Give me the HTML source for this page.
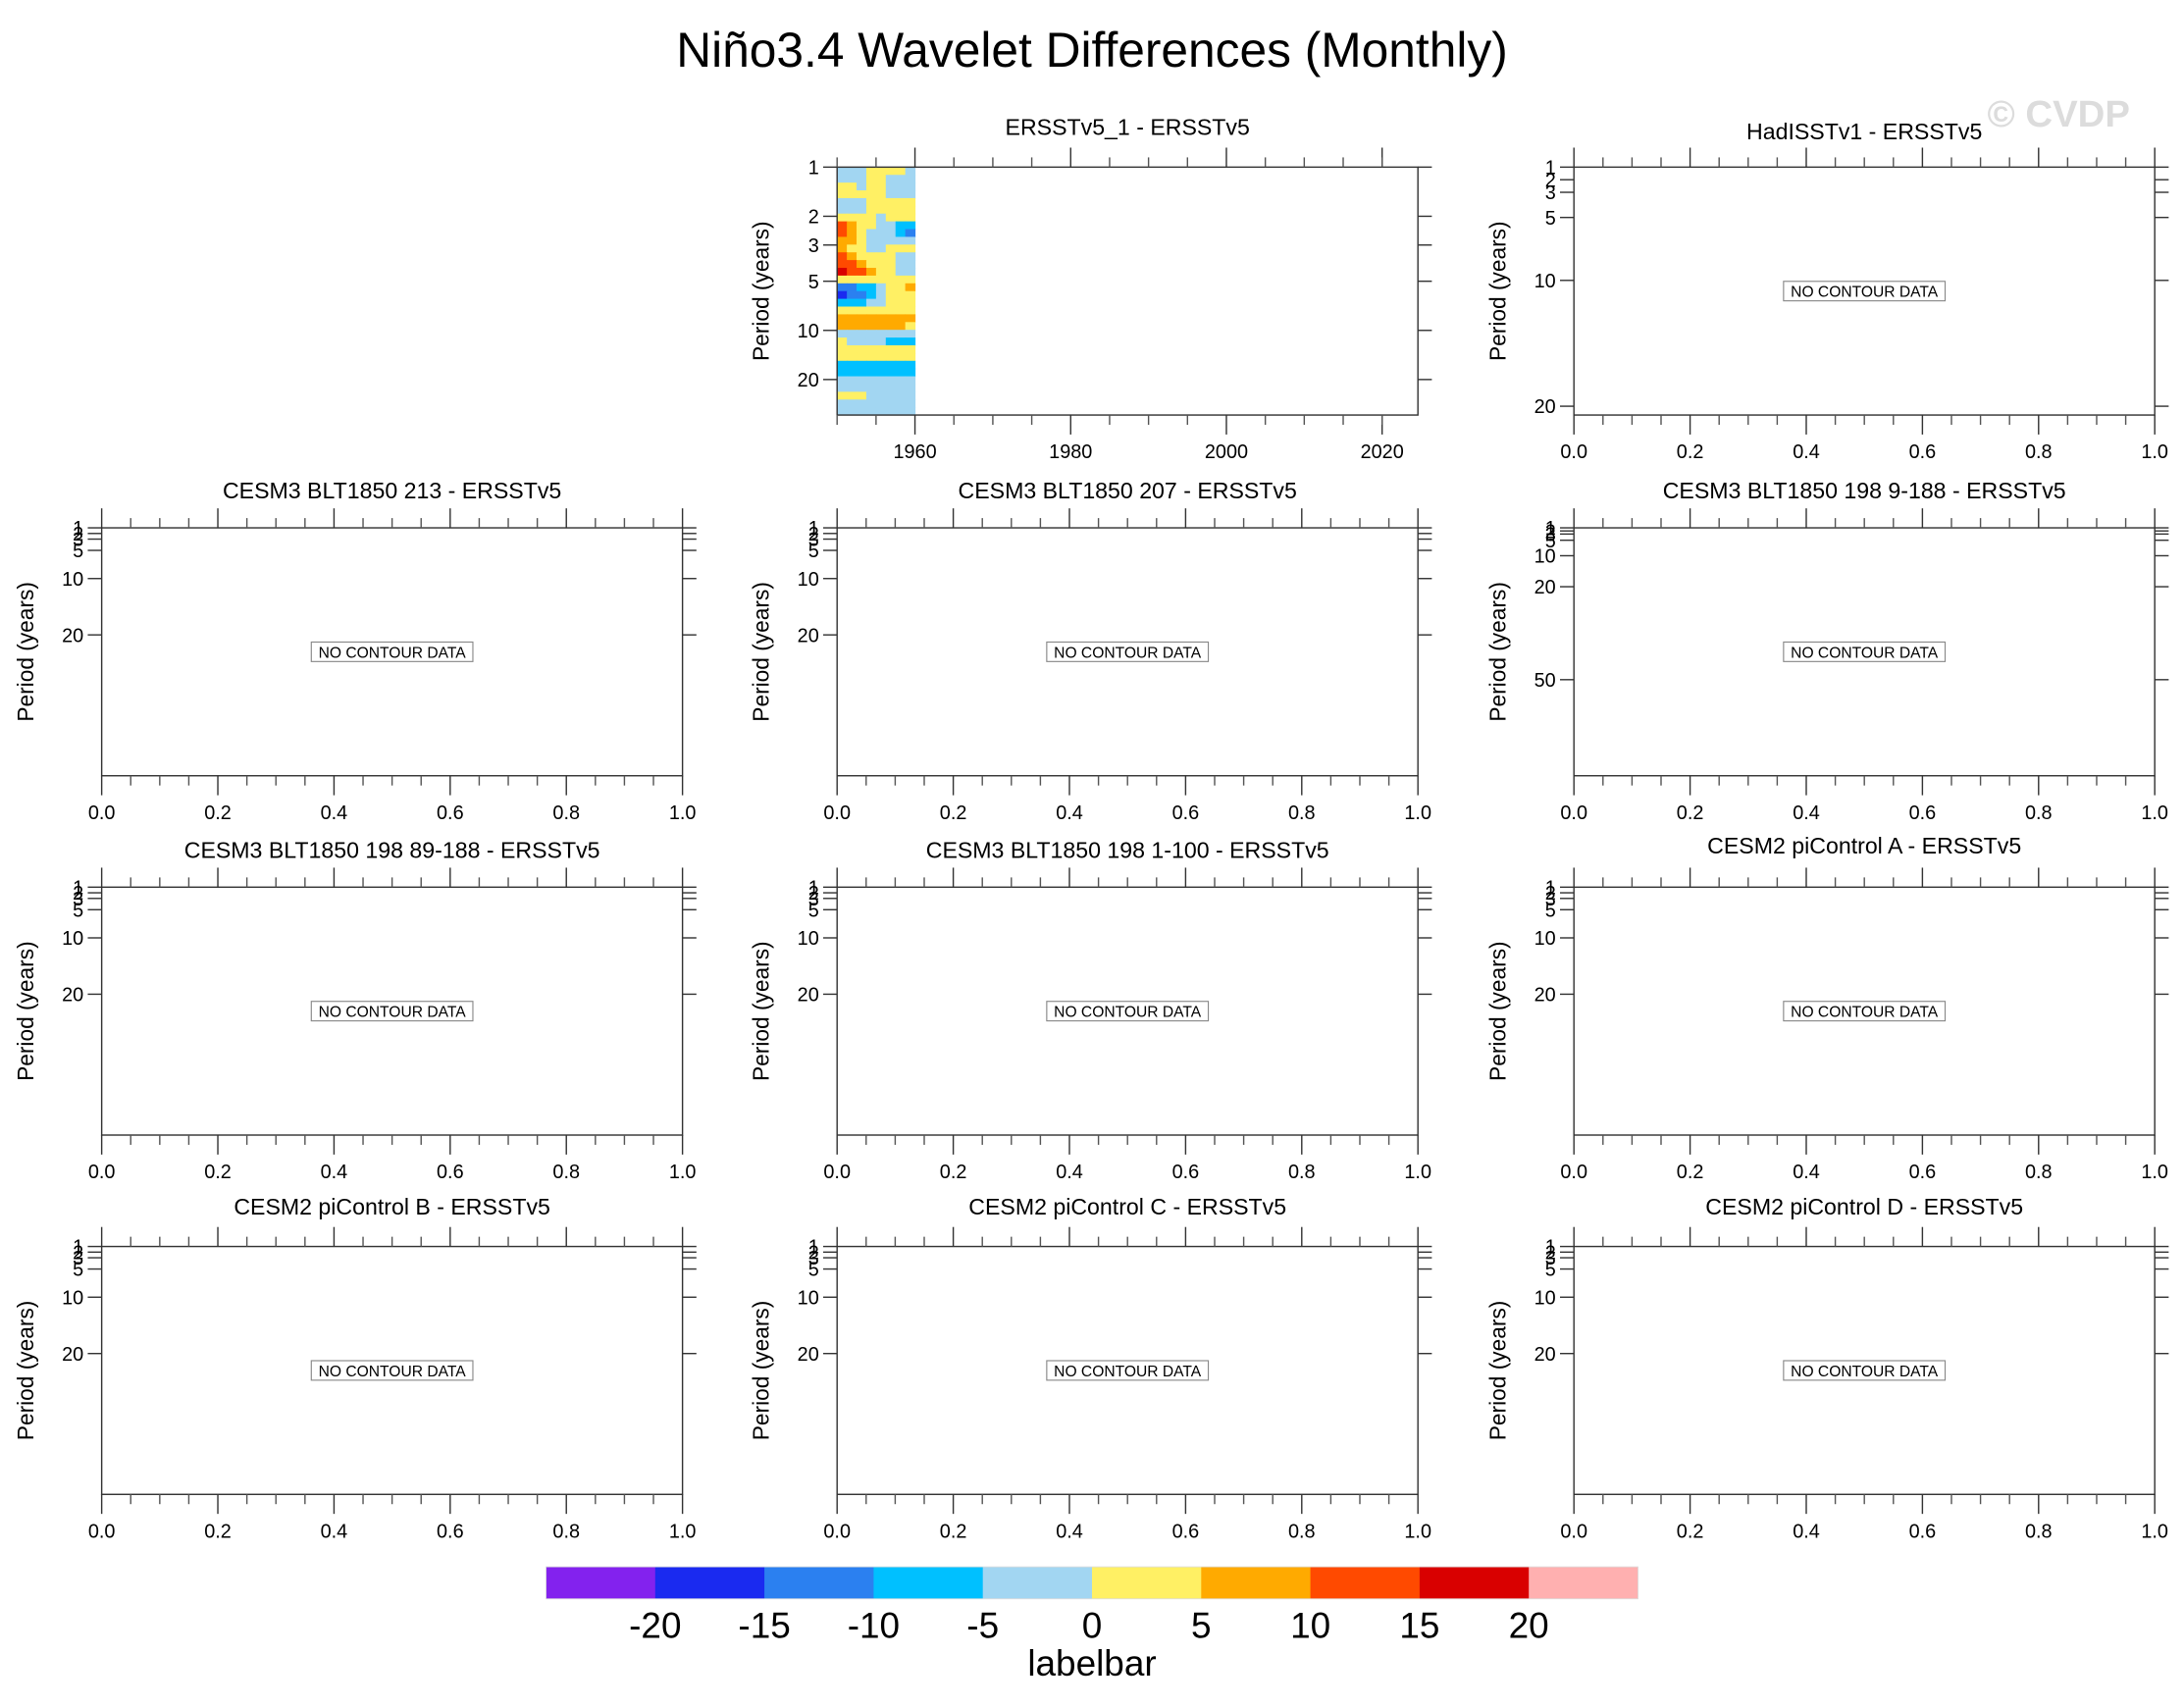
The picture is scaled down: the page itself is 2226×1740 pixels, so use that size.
<!DOCTYPE html>
<html><head><meta charset="utf-8">
<style>
html,body{margin:0;padding:0;background:#fff;}
svg{display:block;font-family:"Liberation Sans",Arial,sans-serif;}
</style></head>
<body>
<svg id="fig" width="2226" height="1740" viewBox="0 0 1568 1225.66" xmlns="http://www.w3.org/2000/svg">
<rect width="1568" height="1225.66" fill="#fff"/>
<text x="784" y="48" font-size="35" text-anchor="middle">Niño3.4 Wavelet Differences (Monthly)</text>
<text x="1478" y="91" font-size="27" font-weight="bold" fill="#dcdcdc" text-anchor="middle">© CVDP</text>
<g id="panels"></g>
<g id="labelbar"></g>
</svg>
<script>
// ---- contour data (ERSSTv5_1 - ERSSTv5), rows = period bands (top=1yr, log spaced to ~33yr), cols = 1950-1960
const contourYearStart = 1950;
const contourYearEnd = 1960;
const contourPeriodMax = 33;
const contourValues = [
[-2,-2,-2,2,2,2,2,-2],
[-2,-2,-2,2,2,-2,-2,-2],
[2,2,-2,2,2,-2,-2,-2],
[2,2,2,2,2,-2,-2,-2],
[-2,-2,-2,2,2,2,2,2],
[-2,-2,-2,2,2,2,2,2],
[2,2,2,2,-2,2,2,2],
[12,7,2,2,-2,-2,-7,-7],
[12,7,2,-2,-2,-2,-7,-12],
[7,7,2,-2,-2,-2,-2,-2],
[7,2,2,-2,-2,2,2,2],
[12,7,2,2,2,2,-2,-2],
[12,12,7,2,2,2,-2,-2],
[17,12,12,7,2,2,-2,-2],
[2,2,2,2,2,2,2,2],
[-12,-12,-7,-7,-2,2,2,7],
[-17,-12,-12,-7,-2,2,2,2],
[-7,-7,-7,-2,-2,2,2,2],
[2,2,2,2,2,2,2,2],
[7,7,7,7,7,7,7,7],
[7,7,7,7,7,7,7,2],
[-2,-2,-2,-2,-2,-2,-2,-2],
[2,-2,-2,-2,-2,-7,-7,-7],
[2,2,2,2,2,2,2,2],
[2,2,2,2,2,2,2,2],
[-7,-7,-7,-7,-7,-7,-7,-7],
[-7,-7,-7,-7,-7,-7,-7,-7],
[-2,-2,-2,-2,-2,-2,-2,-2],
[-2,-2,-2,-2,-2,-2,-2,-2],
[2,2,2,-2,-2,-2,-2,-2],
[-2,-2,-2,-2,-2,-2,-2,-2],
[-2,-2,-2,-2,-2,-2,-2,-2]
];
// ---- labelbar
const levelLabels = ["-20","-15","-10","-5","0","5","10","15","20"];
const levelValues = [-20,-15,-10,-5,0,5,10,15,20];
const levelColors = ["#8322ee","#1a2af0","#2b80f0","#00c0ff","#a2d6f2","#fff064","#ffaa00","#ff4a00","#d90000","#ffb0b0"];
// ---- axis ticks
const yearMajorTicks = [1960,1980,2000,2020];
const yearMinorTicks = [1950,1955,1965,1970,1975,1985,1990,1995,2005,2010,2015,2020,2025];
const fracMajorTicks = [0,0.2,0.4,0.6,0.8,1.0];
const fracMajorLabels = ["0.0","0.2","0.4","0.6","0.8","1.0"];
const periodTicksLog = [1,2,3,5,10,20];
const periodTicksA = [1,2,3,5,10,20];
const periodTicksB = [1,2,3,5,10,20,50];

const NS="http://www.w3.org/2000/svg";
const colLeft=[73,601,1130], rowTop=[120,379,637,895], PW=417, PH=178;
const panels=[
 {r:0,c:1,title:"ERSSTv5_1 - ERSSTv5",kind:"year",ymax:contourPeriodMax,ticks:periodTicksLog,ty:92},
 {r:0,c:2,title:"HadISSTv1 - ERSSTv5",kind:"lin",ymax:20.7,ticks:periodTicksA,ty:95},
 {r:1,c:0,title:"CESM3 BLT1850 213 - ERSSTv5",kind:"lin",ymax:45,ticks:periodTicksA,ty:353},
 {r:1,c:1,title:"CESM3 BLT1850 207 - ERSSTv5",kind:"lin",ymax:45,ticks:periodTicksA,ty:353},
 {r:1,c:2,title:"CESM3 BLT1850 198 9-188 - ERSSTv5",kind:"lin",ymax:81,ticks:periodTicksB,ty:353},
 {r:2,c:0,title:"CESM3 BLT1850 198 89-188 - ERSSTv5",kind:"lin",ymax:45,ticks:periodTicksA,ty:611},
 {r:2,c:1,title:"CESM3 BLT1850 198 1-100 - ERSSTv5",kind:"lin",ymax:45,ticks:periodTicksA,ty:611},
 {r:2,c:2,title:"CESM2 piControl A - ERSSTv5",kind:"lin",ymax:45,ticks:periodTicksA,ty:608},
 {r:3,c:0,title:"CESM2 piControl B - ERSSTv5",kind:"lin",ymax:45,ticks:periodTicksA,ty:867},
 {r:3,c:1,title:"CESM2 piControl C - ERSSTv5",kind:"lin",ymax:45,ticks:periodTicksA,ty:867},
 {r:3,c:2,title:"CESM2 piControl D - ERSSTv5",kind:"lin",ymax:45,ticks:periodTicksA,ty:867}
];
function mk(tag,attrs,parent,text){const e=document.createElementNS(NS,tag);for(const k in attrs)e.setAttribute(k,attrs[k]);if(text!==undefined)e.textContent=text;parent.appendChild(e);return e;}
function colorFor(v){let i=Math.floor((v+25)/5);if(i<0)i=0;if(i>9)i=9;return levelColors[i];}
const root=document.getElementById("panels");
panels.forEach((p,pi)=>{
 const L=colLeft[p.c],T=rowTop[p.r],R=L+PW,B=T+PH;
 const g=mk("g",{},root);
 
 
 let xs, yScale;
 if(p.kind==="year"){const y0=1950,y1=2024.6;xs=v=>L+(v-y0)/(y1-y0)*PW;}
 else xs=v=>L+v*PW;
 if(p.kind==="year") yScale=v=>T+Math.log(v)/Math.log(p.ymax)*PH;
 else yScale=v=>T+(v-1)/(p.ymax-1)*PH;
 if(p.kind==="year"){
  const cg=mk("g",{},g);
  
  
  const nr=contourValues.length, nc=contourValues[0].length;
  const yrw=(contourYearEnd-contourYearStart)/nc;
  for(let i=0;i<nr;i++)for(let j=0;j<nc;j++){
   const pt=Math.pow(contourPeriodMax,i/nr), pb=Math.pow(contourPeriodMax,(i+1)/nr);
   const x0=xs(contourYearStart+j*yrw), x1=xs(contourYearStart+(j+1)*yrw);
   const ya=yScale(pt), yb=yScale(pb);
   const rc=mk("rect",{x:x0,y:ya,width:x1-x0+0.4,height:yb-ya+0.4,fill:colorFor(contourValues[i][j])},cg);
   
   
  }
 }
 const fr=mk("rect",{x:L,y:T,width:PW,height:PH,fill:"none",stroke:"#333",'stroke-width':1},g);
 
 
 const majors=p.kind==="year"?yearMajorTicks:fracMajorTicks;
 const labels=p.kind==="year"?yearMajorTicks.map(String):fracMajorLabels;
 let minors=[];
 if(p.kind==="year") minors=yearMinorTicks.filter(v=>v<=2024.6);
 else for(let k=1;k<20;k++){if(k%4)minors.push(k*0.05);}
 majors.forEach((v,k)=>{const x=xs(v);
  mk("line",{x1:x,x2:x,y1:T,y2:T-14,stroke:"#333"},g);
  mk("line",{x1:x,x2:x,y1:B,y2:B+14,stroke:"#333"},g);
  const t=mk("text",{x:x,y:B+31,'font-size':14,'text-anchor':'middle'},g,labels[k]);
  
  
 });
 minors.forEach(v=>{const x=xs(v);
  mk("line",{x1:x,x2:x,y1:T,y2:T-7,stroke:"#555"},g);
  mk("line",{x1:x,x2:x,y1:B,y2:B+7,stroke:"#555"},g);
 });
 p.ticks.forEach(v=>{const y=yScale(v);
  mk("line",{x1:L,x2:L-10,y1:y,y2:y,stroke:"#333"},g);
  mk("line",{x1:R,x2:R+10,y1:y,y2:y,stroke:"#333"},g);
  const t=mk("text",{x:L-13,y:y+5,'font-size':14,'text-anchor':'end'},g,String(v));
  
  
 });
 const cy=T+PH/2, yx=L-49;
 const yt=mk("text",{x:yx,y:cy,'font-size':16,'text-anchor':'middle',transform:`rotate(-90 ${yx} ${cy})`},g,"Period (years)");
 
 
 const tt=mk("text",{x:L+PW/2,y:p.ty+5,'font-size':16.3,'text-anchor':'middle'},g,p.title);
 
 
 if(p.kind!=="year"){
  const bx=L+PW/2, by=p.r===0?209:T+89;
  const nb=mk("rect",{x:bx-58,y:by-7,width:116,height:14,fill:"#fff",stroke:"#888",'stroke-width':0.8},g);
  
  
  const nt=mk("text",{x:bx,y:by+4.2,'font-size':11,'text-anchor':'middle'},g,"NO CONTOUR DATA");
  
  
 }
});
const lb=document.getElementById("labelbar");
const bx0=392,bw=78.4,by0=1125,bh=23;
levelColors.forEach((c,i)=>{
 const r=mk("rect",{x:bx0+i*bw,y:by0,width:bw+0.3,height:bh,fill:c},lb);
 
 
});
mk("rect",{x:bx0,y:by0,width:bw*10,height:bh,fill:"none",stroke:"#ddd",'stroke-width':0.6},lb);
levelValues.forEach((v,i)=>{
 const x=bx0+bw*(i+1);
 const t=mk("text",{x:x,y:1176,'font-size':26,'text-anchor':'middle'},lb,levelLabels[i]);
 
 
});
const lt=mk("text",{x:784,y:1203,'font-size':26,'text-anchor':'middle'},lb,"labelbar");


</script>
</body></html>
